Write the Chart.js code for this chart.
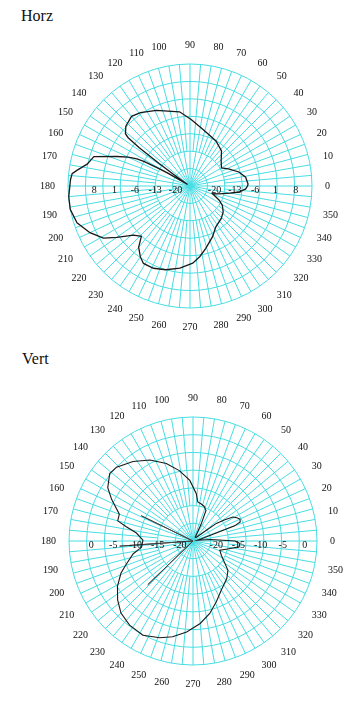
<!DOCTYPE html>
<html>
<head>
<meta charset="utf-8">
<script src="https://cdn.jsdelivr.net/npm/chart.js@4.4.0/dist/chart.umd.min.js"></script>
<style>
  body { margin: 0; background: #fff; width: 364px; height: 711px; overflow: hidden; position: relative; }
  .title { position: absolute; font-family: "Liberation Serif", serif; font-size: 16px; color: #111; }
  canvas { position: absolute; }
</style>
</head>
<body>
<div class="title" style="left:21px; top:7px;">Horz</div>
<canvas id="horz" width="350" height="294" style="left:15px; top:39px;"></canvas>
<div class="title" style="left:22px; top:350px;">Vert</div>
<canvas id="vert" width="354" height="298" style="left:16px; top:392px;"></canvas>
<script>
// horizontal pattern: angle (deg, ccw from east) and level (dB)
const horzAngles = [0, 2, 9, 16, 24, 30, 39, 48, 60, 77, 89, 98, 114, 124, 130, 137, 141, 142, 143, 144,
  145, 147, 149, 150, 151, 152, 153, 155, 158, 163, 168, 172, 174, 177, 185, 191, 198, 205, 211, 215,
  221, 226, 230, 235, 239, 246, 254, 263, 272, 278, 284, 294, 302, 314, 322, 329, 334, 337, 341, 345,
  350, 353, 357];
const horzGain = [-5.2, -5.0, -5.6, -7.5, -10.5, -12.5, -11.2, -8.8, -7.1, -5.0, -2.1, 0.8, 3.5, 5.5, 6.3, 5.2, 3.6, 2, -3, -12,
  -18, -24, -23, -16, -12, -7, -4.5, -1.5, 2.1, 9.6, 11.2, 14.2, 15.8, 16.2, 16.9, 17, 15.9, 13, 9.8, 5.8,
  0.8, -0.9, 2.5, 4.8, 6.1, 6, 5, 3.5, 1.6, -0.5, -2.8, -5.9, -8.3, -9.5, -10.5, -12, -13.8, -15.3, -16.8, -14.6,
  -11, -8, -5.8];
const horzTicks = [8, 1, -6, -13, -20];

// vertical pattern
const vertAngles = [0, 5, 10, 15, 18, 20, 22, 25, 28, 31, 34, 37, 42, 50, 60, 64, 67, 72, 78, 83,
  86, 93, 101, 109, 118, 127, 136, 141, 148, 153, 160, 165, 168, 172, 179, 187, 192, 199, 204, 211,
  218, 225, 233, 242, 251, 258, 266, 275, 283, 291, 300, 312, 320, 325, 333, 341, 347, 353, 357];
const vertGain = [-13.5, -19, -22, -21, -19, -13, -11.5, -11.3, -11.8, -12.5, -14.5, -16.4, -21, -22, -22, -19, -15.5, -14.8, -14.4, -14.1,
  -12.3, -9.3, -6.8, -4.5, -2.3, -0.5, 1, 1.2, -0.3, -2.4, -5.3, -5.4, -7.6, -10.1, -11.7, -11.3, -9.2, -7.1, -5.2, -3.1,
  -1.4, 0, 0.8, 1.1, 0.1, -0.9, -2.4, -4.3, -6.2, -8.3, -10.2, -11.6, -12.7, -14.2, -15.8, -16.6, -15, -12.5, -12.4];
// narrow spikes drawn by the plotter inside the lobes
const vertSpikeAngles = [153, 154, 155, 183, 184, 185, 223, 224, 225];
const vertSpikeGain = [-23, -10, -23, -23, -6.4, -23, -23, -8.8, -23];
const vertTicks = [0, -5, -10, -15, -20];

const gridColor = "#48dde3";
const traceColor = "#1a1a1a";

// labels run clockwise from east, so index i is angle (360 - i)
const angleLabels = Array.from({ length: 360 }, (_, i) => (360 - i) % 360);

function toRing(angles, gains) {
  const out = new Array(360).fill(null);
  angles.forEach((a, i) => { out[(360 - a) % 360] = gains[i]; });
  return out;
}

// 5 degree spokes only in the outer rings, like polar paper
const fineSpokes = {
  id: "fineSpokes",
  beforeDatasetsDraw(chart) {
    const r = chart.scales.r;
    const ctx = chart.ctx;
    const inner = r.getDistanceFromCenterForValue(r.ticks[2].value);
    ctx.save();
    ctx.strokeStyle = gridColor;
    ctx.lineWidth = 1;
    ctx.beginPath();
    for (let i = 5; i < 360; i += 10) {
      const a = r.getIndexAngle(i) - Math.PI / 2;
      ctx.moveTo(r.xCenter + Math.cos(a) * inner, r.yCenter + Math.sin(a) * inner);
      ctx.lineTo(r.xCenter + Math.cos(a) * r.drawingArea, r.yCenter + Math.sin(a) * r.drawingArea);
    }
    ctx.stroke();
    ctx.restore();
  }
};

function ringText(ticks) {
  return {
    id: "ringText",
    afterDraw(chart) {
      const r = chart.scales.r;
      const ctx = chart.ctx;
      ctx.save();
      ctx.font = '10px "Liberation Serif"';
      ctx.fillStyle = "#111";
      ctx.textAlign = "center";
      ctx.textBaseline = "middle";
      ticks.forEach(v => {
        const d = r.getDistanceFromCenterForValue(v);
        ctx.fillText(String(v), r.xCenter - d, r.yCenter + 4);
        ctx.fillText(String(v), r.xCenter + d + 10, r.yCenter + 4);
      });
      ctx.restore();
    }
  };
}

function makePolar(id, datasets, min, max, step, ticks) {
  new Chart(document.getElementById(id), {
    type: "radar",
    data: { labels: angleLabels, datasets: datasets },
    options: {
      responsive: false,
      animation: false,
      devicePixelRatio: 1,
      plugins: { legend: { display: false }, tooltip: { enabled: false } },
      elements: { point: { radius: 0, hitRadius: 0 } },
      scales: {
        r: {
          min: min,
          max: max,
          startAngle: 90,
          ticks: { display: false, stepSize: step },
          grid: { circular: true, color: gridColor, lineWidth: 1 },
          angleLines: {
            color: gridColor,
            lineWidth: ctx => (ctx.index % 10 === 0 ? 1 : 0)
          },
          pointLabels: {
            padding: 13,
            color: "#111",
            font: { family: '"Liberation Serif"', size: 10 },
            callback: l => (l % 10 === 0 ? String(l) : "")
          }
        }
      }
    },
    plugins: [fineSpokes, ringText(ticks)]
  });
}

makePolar("horz", [{
  data: toRing(horzAngles, horzGain),
  borderColor: traceColor,
  borderWidth: 1.3,
  fill: false,
  spanGaps: true
}], -25, 17, 6, horzTicks);

makePolar("vert", [{
  data: toRing(vertAngles, vertGain),
  borderColor: traceColor,
  borderWidth: 1.1,
  fill: false,
  spanGaps: true
}, {
  data: toRing(vertSpikeAngles, vertSpikeGain),
  borderColor: "#444",
  borderWidth: 1,
  fill: false,
  spanGaps: false
}], -23, 5, 4, vertTicks);
</script>
</body>
</html>
